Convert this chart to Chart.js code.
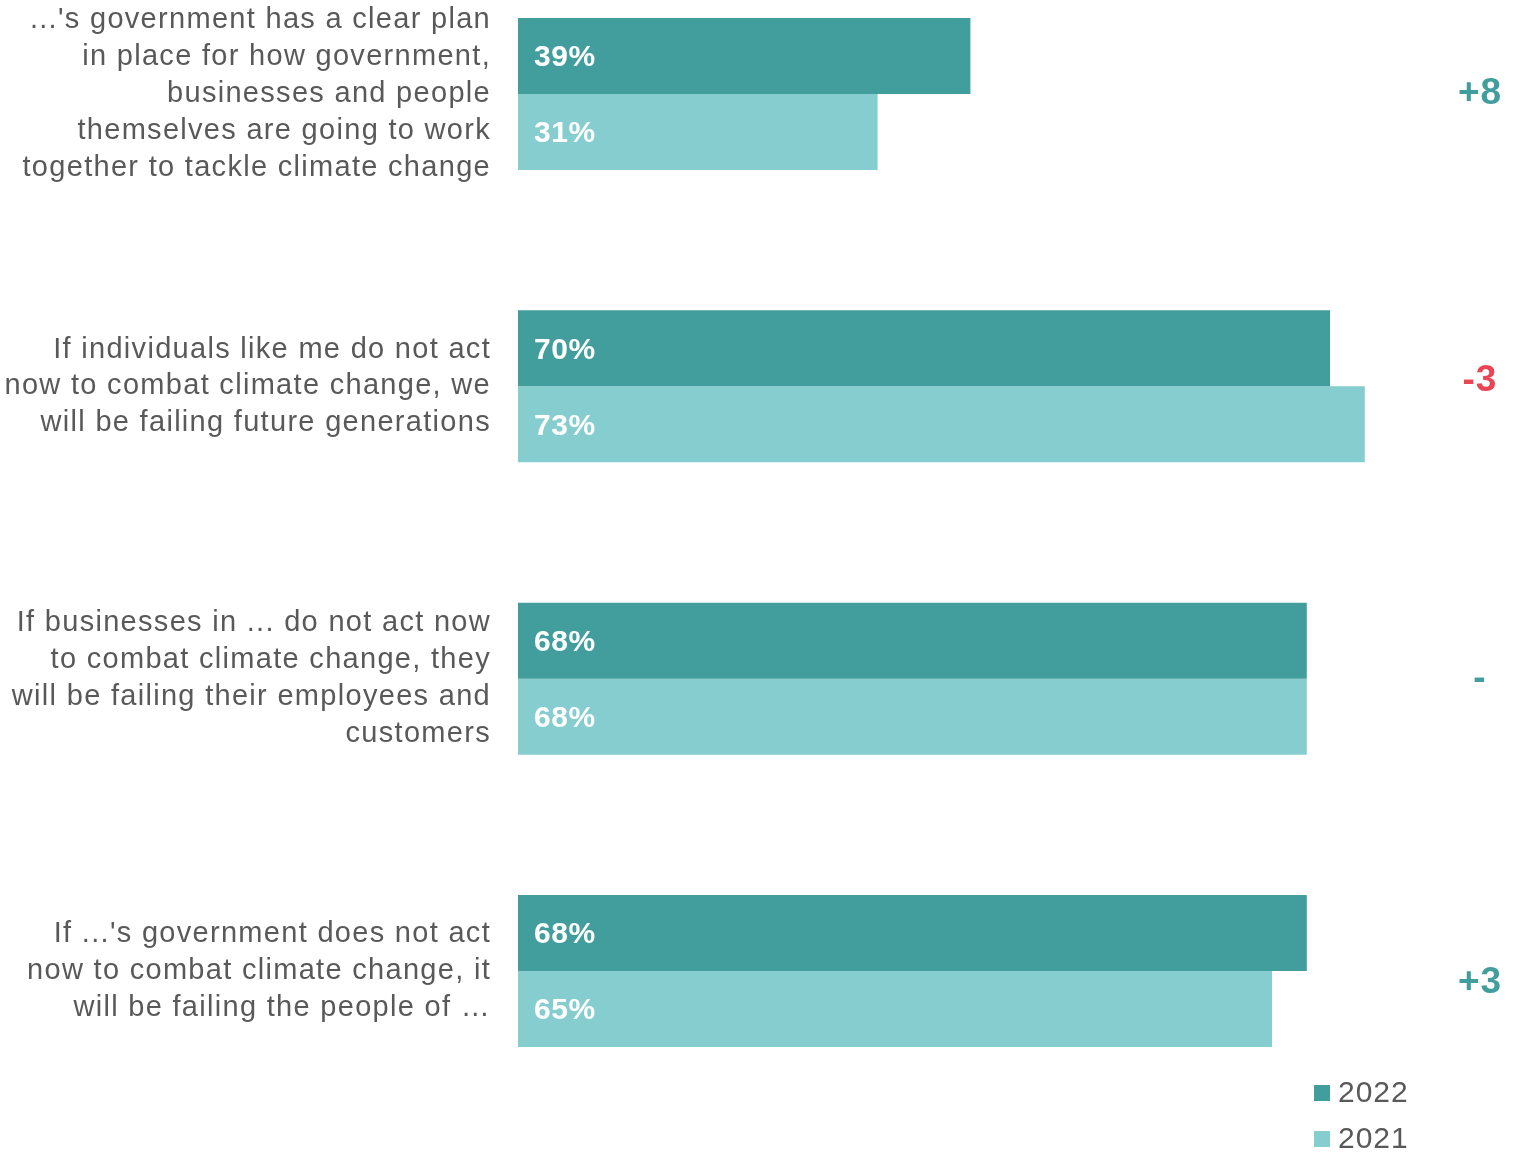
<!DOCTYPE html>
<html>
<head>
<meta charset="utf-8">
<script src="https://cdn.jsdelivr.net/npm/chart.js@4"></script>
<style>
  body { margin: 0; background: #fff; }
  #wrap { position: relative; width: 1534px; height: 1153px; }
  .legend { position: absolute; left: 1314px; font-family: "Liberation Sans", Arial, sans-serif; font-size: 30px; letter-spacing: 1px; color: #595959; }
  .legend span { display: inline-block; width: 16px; height: 16px; margin-right: 8px; vertical-align: 1px; }
</style>
</head>
<body>
<div id="wrap">
  <canvas id="myChart" width="1534" height="1153"></canvas>
  <div class="legend" style="top:1075px"><span style="background:#429E9D"></span>2022</div>
  <div class="legend" style="top:1121px"><span style="background:#86CDCF"></span>2021</div>
</div>
<script>
const statements = [
  ["...'s government has a clear plan", "in place for how government,", "businesses and people", "themselves are going to work", "together to tackle climate change"],
  ["If individuals like me do not act", "now to combat climate change, we", "will be failing future generations"],
  ["If businesses in ... do not act now", "to combat climate change, they", "will be failing their employees and", "customers"],
  ["If ...'s government does not act", "now to combat climate change, it", "will be failing the people of \u2026"]
]
const values2022 = [39, 70, 68, 68]
const values2021 = [31, 73, 68, 65]
const changes = ['+8', '-3', '-', '+3']

const dark = '#429E9D'
const light = '#86CDCF'

// wider letter spacing for the axis text, like the original
const spacingPlugin = {
  id: 'spacing',
  beforeDraw(chart) { chart.ctx.letterSpacing = '1.3px' }
}

// white % labels inside bars + change numbers at right
const labelPlugin = {
  id: 'labels',
  afterDatasetsDraw(chart) {
    const ctx = chart.ctx
    ctx.save()
    ctx.letterSpacing = '0.6px'
    ctx.font = 'bold 30px "Liberation Sans", Arial, sans-serif'
    ctx.fillStyle = '#fff'
    ctx.textBaseline = 'middle'
    ctx.textAlign = 'left'
    chart.data.datasets.forEach((ds, i) => {
      chart.getDatasetMeta(i).data.forEach((bar, j) => {
        ctx.fillText(ds.data[j] + '%', bar.base + 16, bar.y + 2)
      })
    })
    ctx.letterSpacing = '1px'
    ctx.font = 'bold 37px "Liberation Sans", Arial, sans-serif'
    ctx.textAlign = 'center'
    const yScale = chart.scales.y
    const nudge = [0, -6, 0, 12]   // the original's change labels sit a bit off-centre
    changes.forEach((c, j) => {
      ctx.fillStyle = c.startsWith('-') && c.length > 1 ? '#EC4452' : dark
      ctx.fillText(c, 1480, yScale.getPixelForValue(j) + nudge[j])
    })
    ctx.restore()
    ctx.letterSpacing = '0px'
  }
}

let ctx = document.getElementById('myChart').getContext('2d')
let chart = new Chart(ctx, {
  type: 'bar',
  data: {
    labels: statements,
    datasets: [
      { label: '2022', data: values2022, backgroundColor: dark, clip: false },
      { label: '2021', data: values2021, backgroundColor: light, clip: false }
    ]
  },
  options: {
    indexAxis: 'y',
    responsive: false,
    animation: false,
    barPercentage: 1,
    categoryPercentage: 0.52,
    layout: { padding: { top: 94, bottom: 182, right: 88 } },
    plugins: { legend: { display: false }, tooltip: { enabled: false } },
    scales: {
      x: { min: 0, max: 80, display: false },
      y: {
        offset: false,
        grid: { display: false, drawTicks: false },
        border: { display: false },
        afterFit(scale) { scale.width = 518 },
        ticks: {
          padding: 27,
          color: '#595959',
          font: { family: '"Liberation Sans", Arial, sans-serif', size: 29, lineHeight: 1.27 }
        }
      }
    }
  },
  plugins: [spacingPlugin, labelPlugin]
})
</script>
</body>
</html>
